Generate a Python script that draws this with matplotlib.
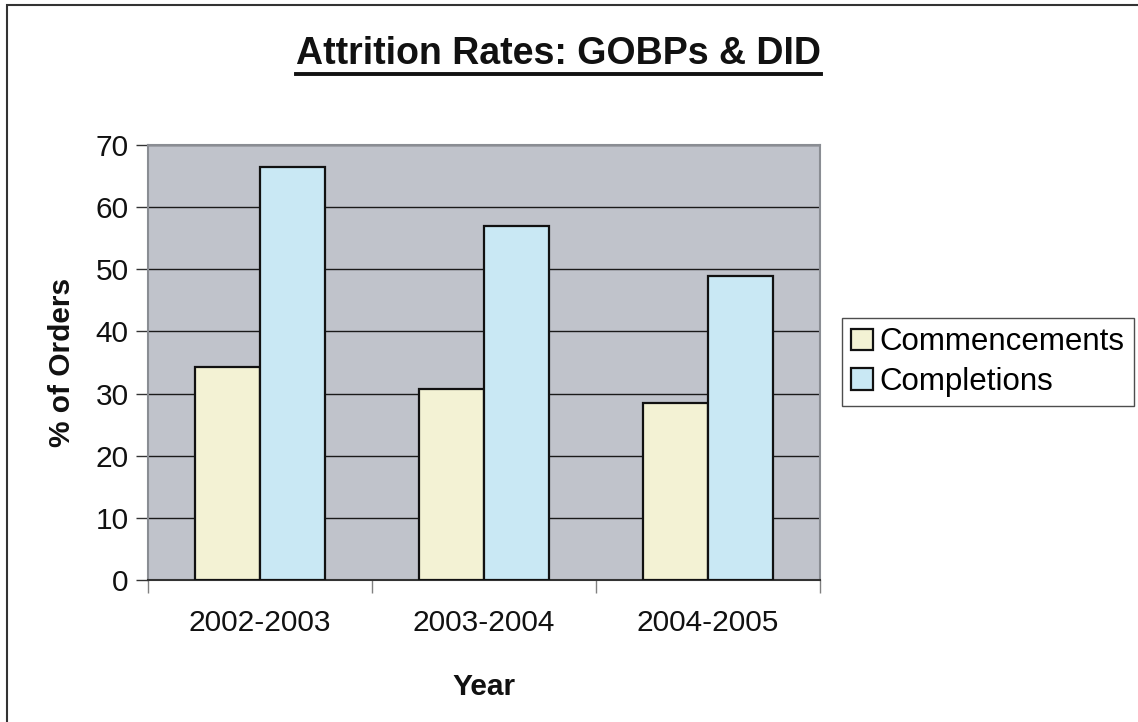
import numpy as np
import matplotlib
matplotlib.use('Agg')
import matplotlib.pyplot as plt
from matplotlib.patches import Rectangle
from matplotlib.lines import Line2D

plt.rcParams['font.family'] = ['Liberation Sans', 'DejaVu Sans']

# attrition data
years = ['2002-2003', '2003-2004', '2004-2005']
commencements = [34.2, 30.7, 28.5]
completions = [66.4, 57.0, 48.9]
yticks = [0, 10, 20, 30, 40, 50, 60, 70]

fig = plt.figure(figsize=(11.38, 7.22), dpi=100)
ax = fig.add_axes([0.130, 0.1967, 0.5905, 0.6025])
ax.set_facecolor('#c0c3cb')

x = np.arange(len(years))
w = 0.29
ax.bar(x - w / 2, commencements, w, color='#f3f2d4', edgecolor='#111111',
       linewidth=1.6, label='Commencements', zorder=3)
ax.bar(x + w / 2, completions, w, color='#c9e8f4', edgecolor='#111111',
       linewidth=1.6, label='Completions', zorder=3)

ax.set_xlim(-0.5, len(years) - 0.5)
ax.set_ylim(0, 70)
ax.set_yticks(yticks)
ax.yaxis.grid(True, color='#1a1a1a', linewidth=1.0, zorder=1)
ax.set_axisbelow(True)

# category labels centred, tick marks between groups
ax.set_xticks(x)
ax.set_xticklabels(years)
ax.set_xticks(np.arange(len(years) + 1) - 0.5, minor=True)
ax.tick_params(axis='x', which='major', length=0, pad=21, labelsize=21.5, colors='#111111')
ax.tick_params(axis='x', which='minor', length=9, width=1.0, color='#808080', direction='out')
ax.tick_params(axis='y', length=9, width=1.0, color='#333333', pad=5, labelsize=21.5,
               labelcolor='#111111')

for side in ['top', 'right', 'left']:
    ax.spines[side].set_color('#8a8d93')
    ax.spines[side].set_linewidth(1.5)
ax.spines['bottom'].set_color('#333333')
ax.spines['bottom'].set_linewidth(1.5)

ax.set_ylabel('% of Orders', fontsize=21.5, fontweight='bold', labelpad=14, color='#111111')
ax.set_xlabel('Year', fontsize=21.5, fontweight='bold', labelpad=26, color='#111111')

leg = ax.legend(loc='upper left', bbox_to_anchor=(842 / 1138, 1 - 318 / 722),
                bbox_transform=fig.transFigure, fontsize=22.5, frameon=True,
                fancybox=False, edgecolor='#222222', handlelength=0.7,
                handleheight=0.7, handletextpad=0.2, borderpad=0.3,
                labelspacing=0.3, borderaxespad=0)
leg.get_frame().set_linewidth(1.0)

# title with underline
title = fig.text(0.491, 0.912, 'Attrition Rates: GOBPs & DID', fontsize=27,
                 fontweight='bold', ha='center', va='baseline', color='#111111')
fig.canvas.draw()
bb = title.get_window_extent().transformed(fig.transFigure.inverted())
uy = bb.y0 - 0.003
fig.add_artist(Line2D([bb.x0, bb.x1], [uy, uy], transform=fig.transFigure,
                      color='#111111', linewidth=2.8))

# outer chart frame
fig.add_artist(Rectangle((7 / 1138, -0.1), 1.2, 1.1 - 5 / 722,
                         transform=fig.transFigure, fill=False,
                         edgecolor='#333333', linewidth=1.5))

fig.savefig('out.png', dpi=100)
